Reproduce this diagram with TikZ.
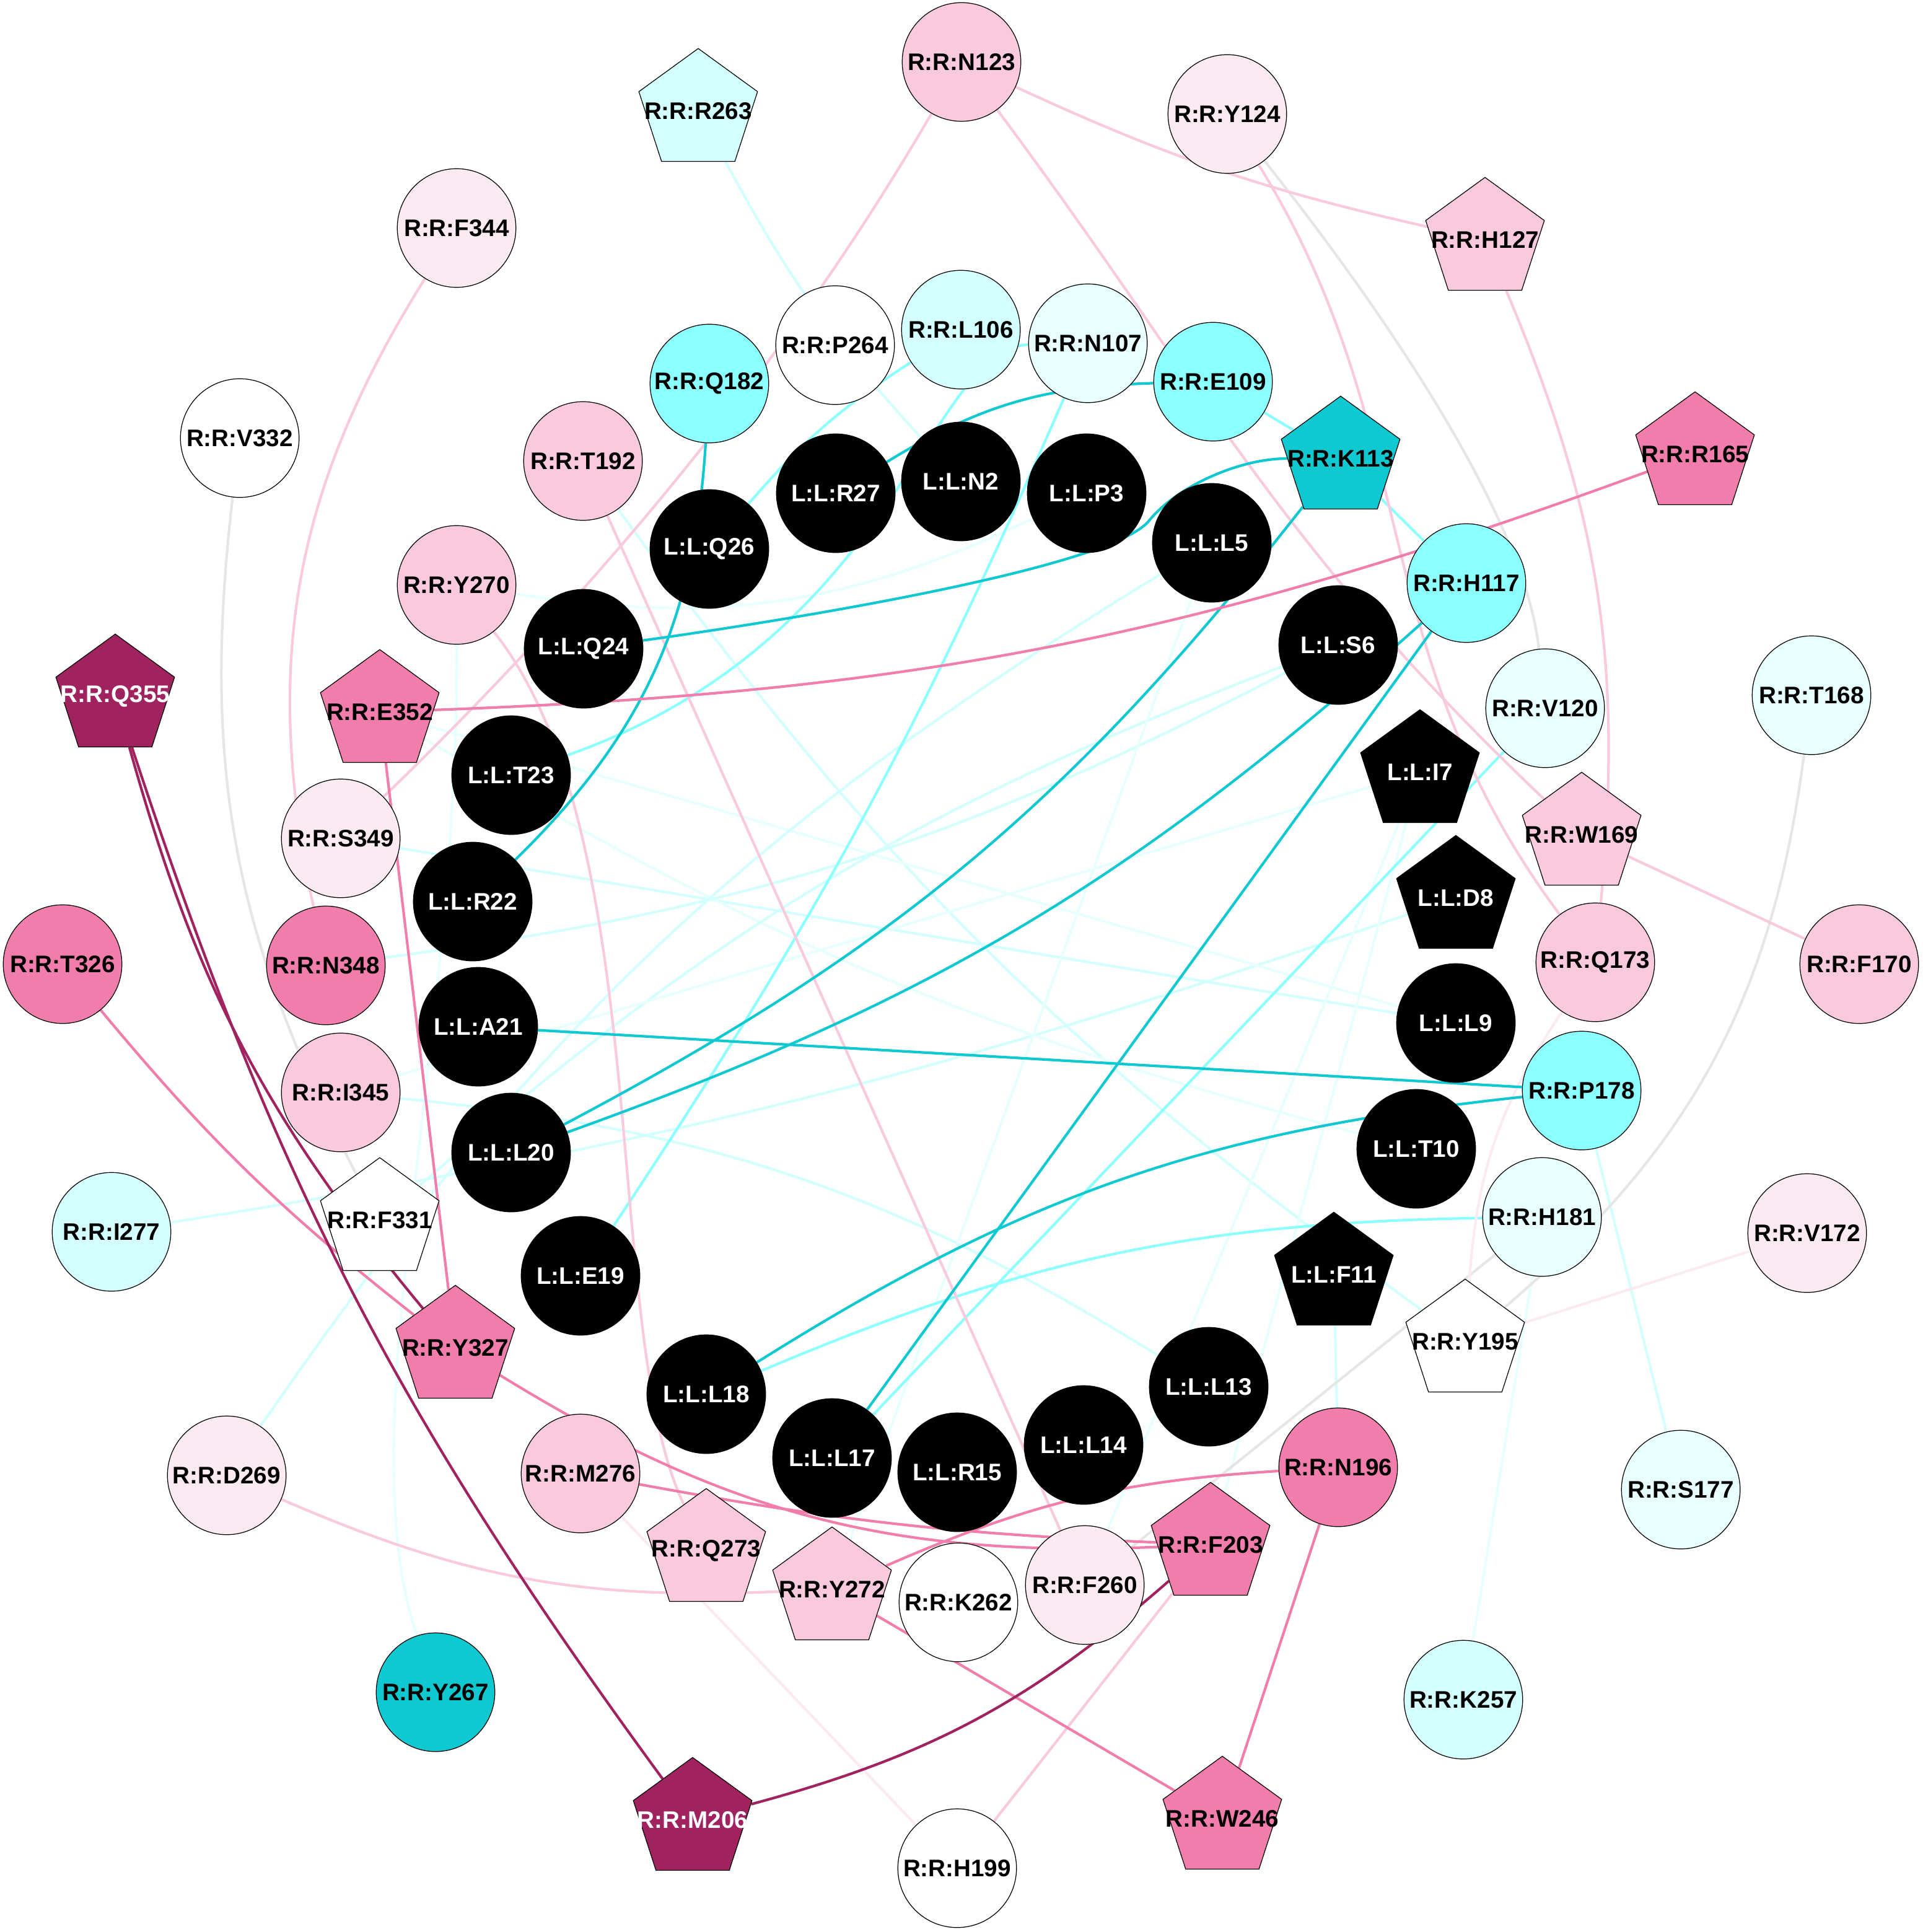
\documentclass[tikz,border=0pt]{standalone}
\usepackage{fontspec}
\setmainfont{Liberation Sans}
\usetikzlibrary{shapes.geometric}
\pgfdeclarelayer{bg}
\pgfdeclarelayer{edges}
\pgfsetlayers{bg,edges,main}
\newcommand{\lbl}[1]{\makebox[0pt]{#1}}

\begin{document}
\begin{tikzpicture}[
    res/.style={circle, draw=black, line width=0.35pt, minimum size=1.915cm, inner sep=0pt,
        font=\fontsize{11pt}{13pt}\selectfont\bfseries},
    pent/.style={res, regular polygon, regular polygon sides=5, minimum size=2.014cm},
    lig/.style={res, fill=black, text=white},
    ligpent/.style={pent, fill=black, text=white},
    link/.style={line width=1.2pt},
]
    \definecolor{pinkLight}{HTML}{F9C9DE}
    \definecolor{pinkPale}{HTML}{FCEAF2}
    \definecolor{pinkMid}{HTML}{F07DAB}
    \definecolor{magDark}{HTML}{A0235F}
    \definecolor{cyanPale}{HTML}{E8FFFF}
    \definecolor{cyanLight}{HTML}{D4FFFF}
    \definecolor{cyanMid}{HTML}{8CFFFF}
    \definecolor{cyanDark}{HTML}{10C8D0}
    \definecolor{greyEdge}{HTML}{E6E6E6}

    \useasboundingbox (0,0) rectangle (31.03,-31.18);
    \begin{pgfonlayer}{bg}
        \fill[white] (0,0) rectangle (31.03,-31.18);
    \end{pgfonlayer}

    % ligand ring
    \node[lig] (l_N2) at (15.51,-7.77) {\lbl{L:L:N2}};
    \node[lig] (l_P3) at (17.54,-7.96) {\lbl{L:L:P3}};
    \node[lig] (l_L5) at (19.56,-8.76) {\lbl{L:L:L5}};
    \node[lig] (l_S6) at (21.60,-10.41) {\lbl{L:L:S6}};
    \node[ligpent] (l_I7) at (22.92,-12.46) {\lbl{L:L:I7}};
    \node[ligpent] (l_D8) at (23.50,-14.49) {\lbl{L:L:D8}};
    \node[lig] (l_L9) at (23.50,-16.51) {\lbl{L:L:L9}};
    \node[lig] (l_T10) at (22.86,-18.54) {\lbl{L:L:T10}};
    \node[ligpent] (l_F11) at (21.53,-20.57) {\lbl{L:L:F11}};
    \node[lig] (l_L13) at (19.51,-22.38) {\lbl{L:L:L13}};
    \node[lig] (l_L14) at (17.49,-23.32) {\lbl{L:L:L14}};
    \node[lig] (l_R15) at (15.45,-23.76) {\lbl{L:L:R15}};
    \node[lig] (l_L17) at (13.43,-23.53) {\lbl{L:L:L17}};
    \node[lig] (l_L18) at (11.40,-22.50) {\lbl{L:L:L18}};
    \node[lig] (l_E19) at (9.37,-20.59) {\lbl{L:L:E19}};
    \node[lig] (l_L20) at (8.25,-18.60) {\lbl{L:L:L20}};
    \node[lig] (l_A21) at (7.72,-16.57) {\lbl{L:L:A21}};
    \node[lig] (l_R22) at (7.63,-14.55) {\lbl{L:L:R22}};
    \node[lig] (l_T23) at (8.25,-12.51) {\lbl{L:L:T23}};
    \node[lig] (l_Q24) at (9.42,-10.47) {\lbl{L:L:Q24}};
    \node[lig] (l_Q26) at (11.45,-8.86) {\lbl{L:L:Q26}};
    \node[lig] (l_R27) at (13.49,-7.96) {\lbl{L:L:R27}};

    % receptor residues
    \node[res, fill=pinkLight] (r_N123) at (15.52,-1.00) {\lbl{R:R:N123}};
    \node[pent, fill=cyanLight] (r_R263) at (11.27,-1.79) {\lbl{R:R:R263}};
    \node[res, fill=pinkPale] (r_Y124) at (19.81,-1.84) {\lbl{R:R:Y124}};
    \node[pent, fill=pinkLight] (r_H127) at (23.97,-3.87) {\lbl{R:R:H127}};
    \node[res, fill=pinkPale] (r_F344) at (7.37,-3.68) {\lbl{R:R:F344}};
    \node[res, fill=white] (r_P264) at (13.48,-5.57) {\lbl{R:R:P264}};
    \node[res, fill=cyanLight] (r_L106) at (15.51,-5.32) {\lbl{R:R:L106}};
    \node[res, fill=cyanPale] (r_N107) at (17.56,-5.54) {\lbl{R:R:N107}};
    \node[res, fill=cyanMid] (r_Q182) at (11.45,-6.19) {\lbl{R:R:Q182}};
    \node[res, fill=cyanMid] (r_E109) at (19.58,-6.16) {\lbl{R:R:E109}};
    \node[res, fill=white] (r_V332) at (3.87,-7.07) {\lbl{R:R:V332}};
    \node[res, fill=pinkLight] (r_T192) at (9.41,-7.44) {\lbl{R:R:T192}};
    \node[pent, fill=cyanDark] (r_K113) at (21.64,-7.40) {\lbl{R:R:K113}};
    \node[pent, fill=pinkMid] (r_R165) at (27.36,-7.33) {\lbl{R:R:R165}};
    \node[res, fill=pinkLight] (r_Y270) at (7.37,-9.44) {\lbl{R:R:Y270}};
    \node[res, fill=cyanMid] (r_H117) at (23.67,-9.41) {\lbl{R:R:H117}};
    \node[pent, fill=magDark, text=white] (r_Q355) at (1.86,-11.24) {\lbl{R:R:Q355}};
    \node[pent, fill=pinkMid] (r_E352) at (6.13,-11.49) {\lbl{R:R:E352}};
    \node[res, fill=cyanPale] (r_V120) at (24.94,-11.43) {\lbl{R:R:V120}};
    \node[res, fill=cyanPale] (r_T168) at (29.24,-11.22) {\lbl{R:R:T168}};
    \node[res, fill=pinkPale] (r_S349) at (5.50,-13.53) {\lbl{R:R:S349}};
    \node[pent, fill=pinkLight] (r_W169) at (25.53,-13.47) {\lbl{R:R:W169}};
    \node[res, fill=pinkMid] (r_T326) at (1.01,-15.56) {\lbl{R:R:T326}};
    \node[res, fill=pinkMid] (r_N348) at (5.26,-15.58) {\lbl{R:R:N348}};
    \node[res, fill=pinkLight] (r_Q173) at (25.75,-15.53) {\lbl{R:R:Q173}};
    \node[res, fill=pinkLight] (r_F170) at (30.01,-15.56) {\lbl{R:R:F170}};
    \node[res, fill=pinkLight] (r_I345) at (5.50,-17.63) {\lbl{R:R:I345}};
    \node[res, fill=cyanMid] (r_P178) at (25.53,-17.60) {\lbl{R:R:P178}};
    \node[res, fill=cyanLight] (r_I277) at (1.80,-19.88) {\lbl{R:R:I277}};
    \node[pent, fill=white] (r_F331) at (6.13,-19.69) {\lbl{R:R:F331}};
    \node[res, fill=cyanPale] (r_H181) at (24.89,-19.64) {\lbl{R:R:H181}};
    \node[res, fill=pinkPale] (r_V172) at (29.17,-19.90) {\lbl{R:R:V172}};
    \node[pent, fill=pinkMid] (r_Y327) at (7.35,-21.75) {\lbl{R:R:Y327}};
    \node[pent, fill=white] (r_Y195) at (23.65,-21.65) {\lbl{R:R:Y195}};
    \node[res, fill=pinkPale] (r_D269) at (3.66,-23.81) {\lbl{R:R:D269}};
    \node[res, fill=pinkLight] (r_M276) at (9.37,-23.78) {\lbl{R:R:M276}};
    \node[res, fill=pinkMid] (r_N196) at (21.60,-23.68) {\lbl{R:R:N196}};
    \node[res, fill=cyanPale] (r_S177) at (27.13,-24.04) {\lbl{R:R:S177}};
    \node[pent, fill=pinkLight] (r_Q273) at (11.40,-25.03) {\lbl{R:R:Q273}};
    \node[pent, fill=pinkMid] (r_F203) at (19.54,-24.93) {\lbl{R:R:F203}};
    \node[pent, fill=pinkLight] (r_Y272) at (13.43,-25.65) {\lbl{R:R:Y272}};
    \node[res, fill=white] (r_K262) at (15.47,-25.86) {\lbl{R:R:K262}};
    \node[res, fill=pinkPale] (r_F260) at (17.51,-25.58) {\lbl{R:R:F260}};
    \node[res, fill=cyanDark] (r_Y267) at (7.03,-27.31) {\lbl{R:R:Y267}};
    \node[res, fill=cyanLight] (r_K257) at (23.62,-27.43) {\lbl{R:R:K257}};
    \node[pent, fill=magDark, text=white] (r_M206) at (11.18,-29.37) {\lbl{R:R:M206}};
    \node[pent, fill=pinkMid] (r_W246) at (19.73,-29.35) {\lbl{R:R:W246}};
    \node[res, fill=white] (r_H199) at (15.45,-30.15) {\lbl{R:R:H199}};

    \begin{pgfonlayer}{edges}
        % faint ligand contacts
        \draw[link, cyanLight] (r_R263) to[bend right=7] (l_N2);
        \draw[link, cyanLight] (r_T192) to[bend right=9] (r_Y195);
        \draw[link, cyanLight] (l_F11) -- (r_N196);
        \draw[link, cyanLight] (r_P178) -- (r_S177);
        \draw[link, cyanLight] (r_I277) to[bend right=5] (l_D8);
        \draw[link, cyanLight] (r_S349) -- (l_L9);
        \draw[link, cyanPale] (r_E352) -- (l_L9);
        \draw[link, cyanPale] (r_E352) to[bend right=8] (l_T10);
        \draw[link, cyanLight] (r_F331) to[bend left=10] (l_S6);
        \draw[link, cyanPale] (r_H181) -- (r_K257);
        \draw[link, cyanPale] (r_Y270) to[bend right=17] (l_P3);
        \draw[link, cyanPale] (r_Y270) .. controls (7.4,-17) and (5.6,-23) .. (r_Y267);
        \draw[link, cyanLight] (r_N348) to[bend right=10] (l_S6);
        \draw[link, cyanPale] (r_I345) -- (l_I7);
        \draw[link, cyanLight] (r_I345) to[bend left=13] (l_L13);
        \draw[link, cyanLight] (l_L5) to[bend right=12] (r_D269);
        \draw[link, cyanPale] (r_Y272) -- (l_L5);
        \draw[link, cyanPale] (r_F260) -- (l_I7);
        \draw[link, cyanPale] (r_F203) -- (l_I7);

        % grey
        \draw[link, greyEdge] (r_Y124) .. controls (22.0,-4.6) and (24.6,-8.2) .. (r_V120);
        \draw[link, greyEdge] (r_V332) to[bend right=17] (r_F331);
        \draw[link, greyEdge] (r_T168) to[bend left=21] (r_Y195);
        \draw[link, greyEdge] (r_H181) -- (r_F260);

        % medium cyan
        \draw[link, cyanMid] (r_E109) -- (r_K113);
        \draw[link, cyanMid] (r_K113) -- (r_H117);
        \draw[link, cyanMid] (r_L106) to[bend right=8] (l_Q26);
        \draw[link, cyanMid] (r_N107) .. controls (15.0,-5.6) and (14.5,-10.3) .. (l_T23);
        \draw[link, cyanMid] (r_N107) to[bend left=5] (l_E19);
        \draw[link, cyanMid] (r_V120) -- (l_L17);
        \draw[link, cyanMid] (l_L18) to[bend left=11] (r_H181);

        % pale and light pink
        \draw[link, pinkPale] (r_M276) -- (r_H199);
        \draw[link, pinkPale] (r_V172) -- (r_Y195);
        \draw[link, pinkPale] (r_Q173) to[bend right=15] (r_Y195);
        \draw[link, pinkLight] (r_N123) to[bend right=6] (r_H127);
        \draw[link, pinkLight] (r_N123) .. controls (13.6,-4.3) and (11.0,-8.2) .. (r_S349);
        \draw[link, pinkLight] (r_N123) .. controls (19.4,-6.2) and (20.6,-8.8) .. (r_W169);
        \draw[link, pinkLight] (r_Y124) .. controls (23.0,-7.0) and (22.0,-10.5) .. (r_Q173);
        \draw[link, pinkLight] (r_H127) to[bend left=14] (r_Q173);
        \draw[link, pinkLight] (r_W169) -- (r_F170);
        \draw[link, pinkLight] (r_F344) to[bend right=22] (r_N348);
        \draw[link, pinkLight] (r_T192) -- (r_F260);
        \draw[link, pinkLight] (r_Y270) .. controls (10.6,-13.5) and (9.7,-21.5) .. (r_Q273);
        \draw[link, pinkLight] (r_D269) to[bend right=13] (r_Y272);
        \draw[link, pinkLight] (r_F203) -- (r_H199);

        % dark cyan
        \draw[link, cyanDark] (l_R27) to[bend left=15] (r_E109);
        \draw[link, cyanDark] (l_Q24) .. controls (13.5,-9.9) and (18.0,-9.1) .. (18.55,-8.40)
            .. controls (19.0,-7.85) and (20.0,-7.40) .. (r_K113);
        \draw[link, cyanDark] (r_Q182) to[bend left=21] (l_R22);
        \draw[link, cyanDark] (l_A21) -- (r_P178);
        \draw[link, cyanDark] (l_L18) to[bend left=13] (r_P178);
        \draw[link, cyanDark] (r_K113) to[bend left=12] (l_L20);
        \draw[link, cyanDark] (r_H117) to[bend left=11] (l_L20);
        \draw[link, cyanDark] (r_H117) -- (l_L17);

        % medium pink
        \draw[link, pinkMid] (r_E352) to[bend right=9] (r_R165);
        \draw[link, pinkMid] (r_E352) -- (r_Y327);
        \draw[link, pinkMid] (r_T326) to[bend right=6] (r_Y327);
        \draw[link, pinkMid] (r_Y327) to[bend right=17] (r_F203);
        \draw[link, pinkMid] (r_M276) to[bend right=4] (r_F203);
        \draw[link, pinkMid] (r_N196) -- (r_W246);
        \draw[link, pinkMid] (r_N196) to[bend right=10] (r_Y272);
        \draw[link, pinkMid] (r_Y272) -- (r_W246);

        % dark magenta
        \draw[link, magDark] (r_Q355) to[bend right=12] (r_Y327);
        \draw[link, magDark] (r_Q355) to[bend right=9] (r_M206);
        \draw[link, magDark] (r_M206) to[bend right=13] (r_F203);
    \end{pgfonlayer}
\end{tikzpicture}
\end{document}
